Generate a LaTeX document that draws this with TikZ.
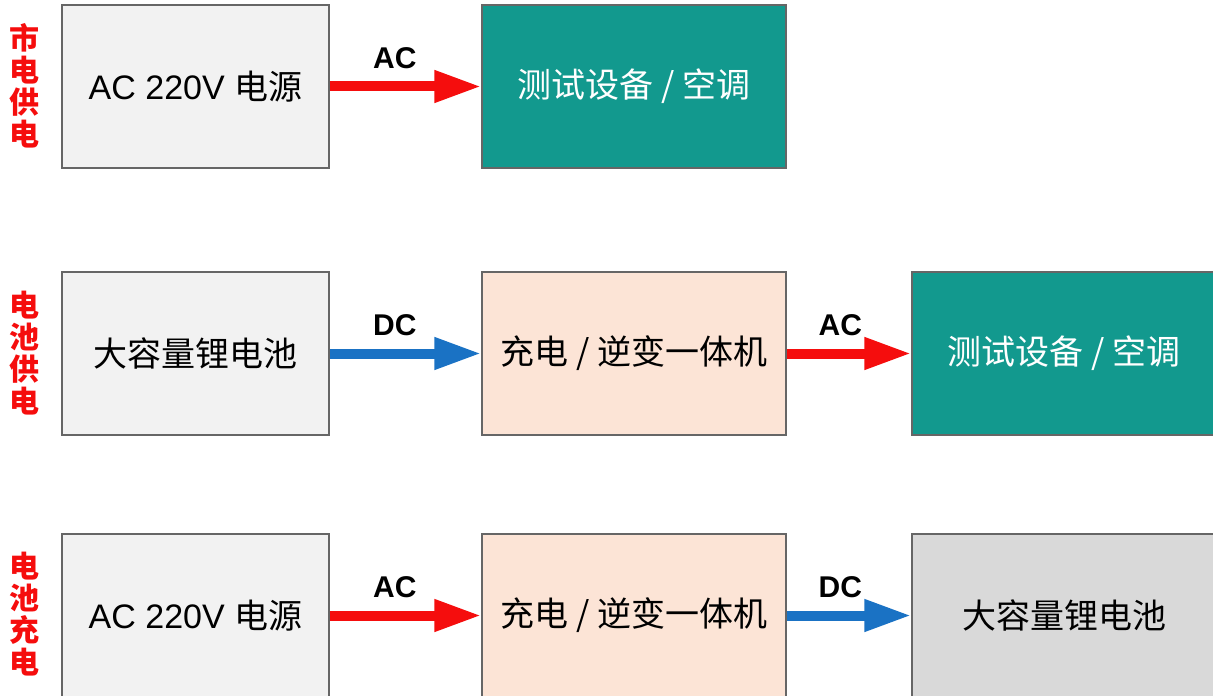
\documentclass[tikz,border=0pt]{standalone}
\usepackage{fontspec}
\setmainfont{Liberation Sans}
\newfontfamily\cjk{Noto Sans CJK SC}
\usetikzlibrary{arrows.meta,positioning}
\definecolor{edgegray}{HTML}{666666}
\definecolor{srcgray}{HTML}{F2F2F2}
\definecolor{batgray}{HTML}{D9D9D9}
\definecolor{invpeach}{HTML}{FCE4D6}
\definecolor{loadteal}{HTML}{12998E}
\definecolor{acred}{HTML}{F50D0D}
\definecolor{dcblue}{HTML}{1A72C4}
\tikzset{x=0.5pt,y=-0.5pt,
    blk/.style={draw=edgegray,line width=0.6pt,inner sep=0pt,minimum height=81.5pt,
        font=\fontsize{17}{20}\selectfont},
    narrow/.style={blk,minimum width=133.5pt},
    wide/.style={blk,minimum width=152pt},
    flow/.style={line width=5pt,-{Triangle[length=23.5pt,width=15pt]}},
    acflow/.style={flow,draw=acred},
    dcflow/.style={flow,draw=dcblue},
    lbl/.style={pos=0.43,above,inner sep=0pt,yshift=6.5pt,
        font=\fontsize{15}{16}\selectfont\bfseries,text=black},
    side/.style={align=center,text=acred,inner sep=0pt,
        font=\fontsize{15}{16}\selectfont\bfseries\cjk},
    }
\begin{document}
\begin{tikzpicture}
\clip (0,0) rectangle (1213,695);
% row 1
\node[side] (s1) at (25,86) {市\\电\\供\\电};
\node[narrow,fill=srcgray] (grid1) at (195.5,86.5) {AC 220V {\cjk 电源}};
\node[wide,fill=loadteal,text=white] (load1) at (634,86.5) {\cjk 测试设备 / 空调};
\draw[acflow] (grid1) -- node[lbl]{AC} (load1);
% row 2
\node[side] (s2) at (25,353) {电\\池\\供\\电};
\node[narrow,fill=srcgray] (bat2) at (195.5,353.5) {\cjk 大容量锂电池};
\node[wide,fill=invpeach] (inv2) at (634,353.5) {\cjk 充电 / 逆变一体机};
\node[wide,fill=loadteal,text=white] (load2) at (1064,353.5) {\cjk 测试设备 / 空调};
\draw[dcflow] (bat2) -- node[lbl]{DC} (inv2);
\draw[acflow] (inv2) -- node[lbl]{AC} (load2);
% row 3
\node[side] (s3) at (25,614) {电\\池\\充\\电};
\node[narrow,fill=srcgray] (grid3) at (195.5,615.5) {AC 220V {\cjk 电源}};
\node[wide,fill=invpeach] (inv3) at (634,615.5) {\cjk 充电 / 逆变一体机};
\node[wide,fill=batgray] (bat3) at (1064,615.5) {\cjk 大容量锂电池};
\draw[acflow] (grid3) -- node[lbl]{AC} (inv3);
\draw[dcflow] (inv3) -- node[lbl]{DC} (bat3);
\end{tikzpicture}
\end{document}
